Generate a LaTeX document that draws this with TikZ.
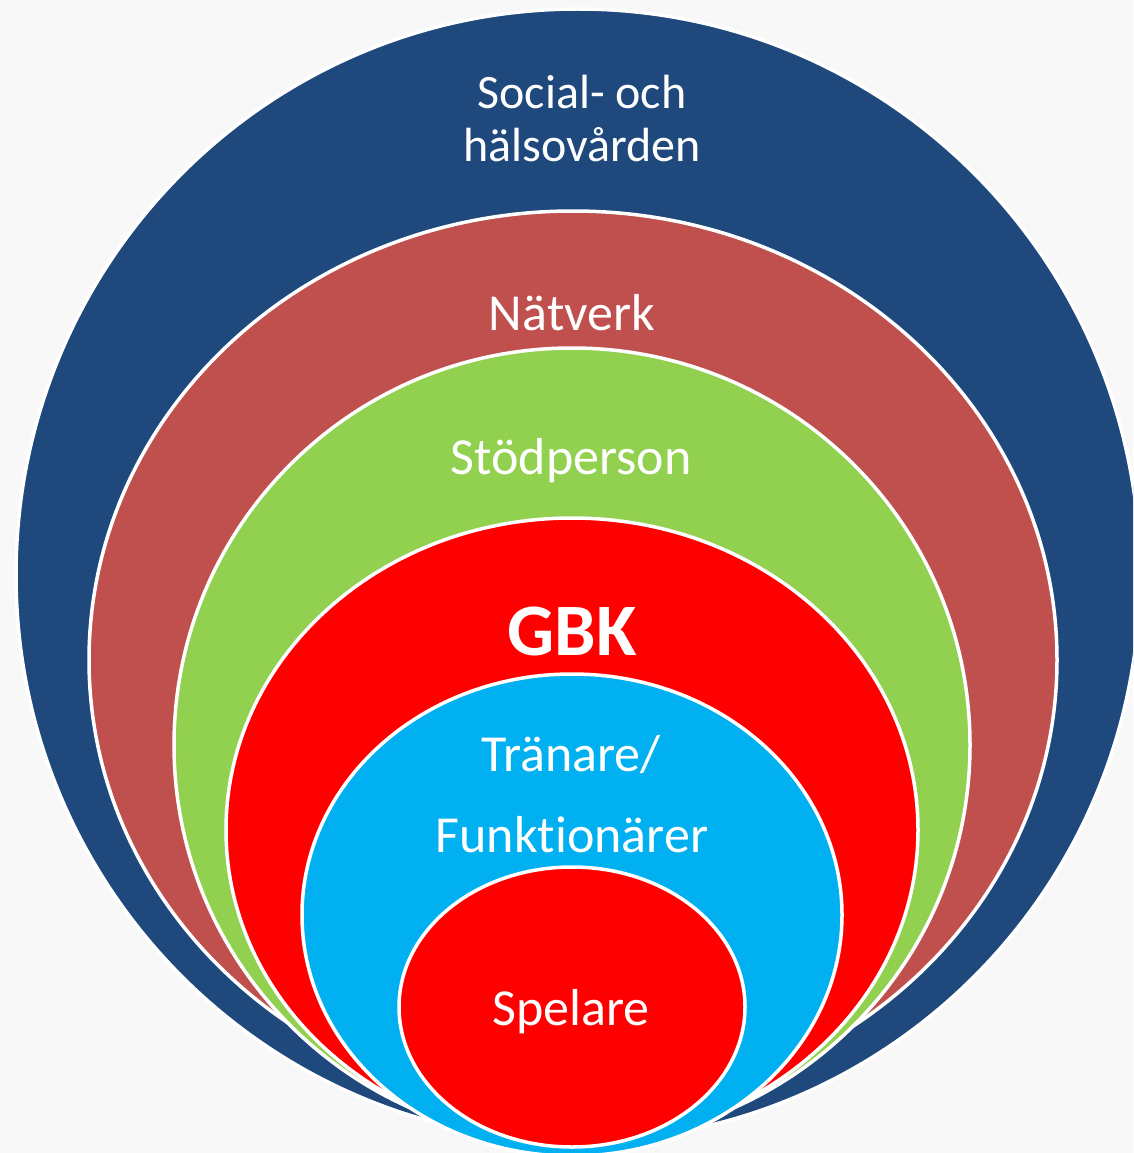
\documentclass[tikz,border=0pt]{standalone}
\usepackage{fontspec}
\setmainfont[Ligatures=NoCommon]{Carlito}
\definecolor{bgcol}{HTML}{F8F8F8}
\definecolor{socialblue}{HTML}{1F497D}
\definecolor{natverkred}{HTML}{C0504D}
\definecolor{stodgreen}{HTML}{92D050}
\definecolor{gbkred}{HTML}{FF0000}
\definecolor{tranarecyan}{HTML}{00B0F0}
\tikzset{
  ring/.style={draw=white, line width=3.5pt},
  label/.style={text=white, font=\fontsize{52}{60}\selectfont, anchor=base, inner sep=0pt}
}
\begin{document}
\begin{tikzpicture}[x=1pt, y=-1pt]
            % Background and clipping
            \fill[bgcol] (0,0) rectangle (1133,1153);
            \useasboundingbox (0,0) rectangle (1133,1153);
            \clip (0,0) rectangle (1133,1153);

            % Define the nested ellipses, from the outside in
            \foreach \cx/\cy/\rx/\ry/\col in {578/575/562/566/socialblue, 573/660/484/449/natverkred, 572/745/398/397/stodgreen, 572/830/346/312/gbkred, 572/915/270/241/tranarecyan, 572/1007/173/140/gbkred} {
                \draw[ring, fill=\col] (\cx,\cy) ellipse ({\rx} and {\ry});
            }

            % Labels
            \node[label, font=\fontsize{48}{56}\selectfont] (social) at (582,109) {Social- och};
            \node[label, font=\fontsize{48}{56}\selectfont] (halso) at (582,161) {hälsovården};
            \node[label] (natverk) at (572,330) {Nätverk};
            \node[label] (stod) at (571,474) {Stödperson};
            \node[label, font=\fontsize{74}{80}\selectfont\bfseries] (gbk) at (572,655) {GBK};
            \node[label] (tranare) at (571,771) {Tränare/};
            \node[label] (funk) at (572,852) {Funktionärer};
            \node[label] (spelare) at (571,1025) {Spelare};
        \end{tikzpicture}
\end{document}
